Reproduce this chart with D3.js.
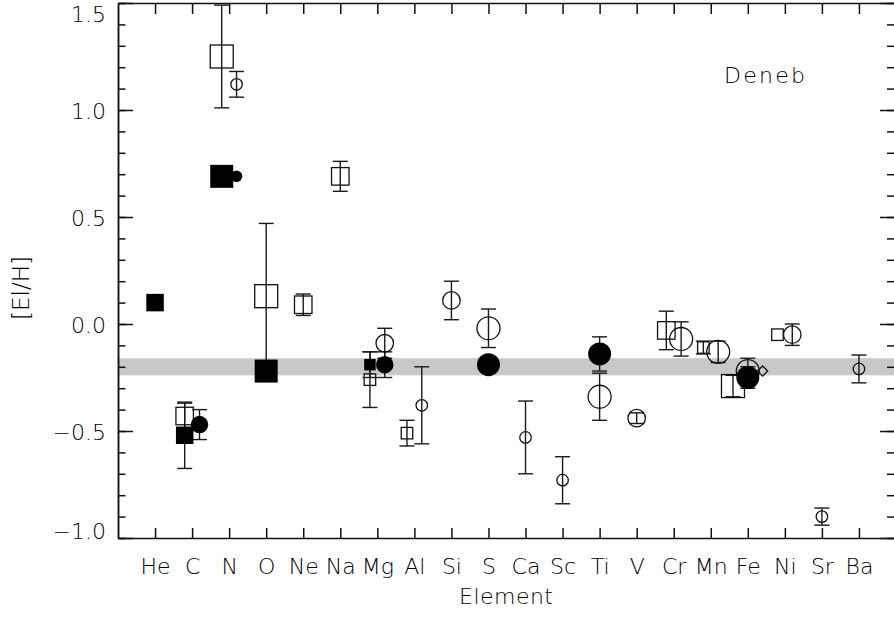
<!DOCTYPE html>
<html><head><meta charset="utf-8">
<script src="https://cdn.jsdelivr.net/npm/d3@7"></script>
<style>body{margin:0;background:#fff}svg{display:block}</style>
</head><body>
<svg id="c" width="894" height="617"></svg>
<script>
// ---------- data ----------
const elements = ["He","C","N","O","Ne","Na","Mg","Al","Si","S","Ca","Sc","Ti","V","Cr","Mn","Fe","Ni","Sr","Ba"];
const yMajorTicks = [-1.0,-0.5,0.0,0.5,1.0,1.5];
const solarBand = [-0.24,-0.16];

// filled squares
const fsqEl  = ["He","C","N","O","Mg"];
const fsqVal = [0.10,-0.52,0.69,-0.22,-0.19];
const fsqErr = [0,0.155,0,0,0.06];
const fsqWt  = [2,2,3,3,1];

// open squares
const osqEl  = ["C","N","O","Ne","Na","Mg","Al","Cr","Mn","Fe","Ni"];
const osqVal = [-0.43,1.25,0.13,0.09,0.69,-0.26,-0.51,-0.03,-0.11,-0.29,-0.05];
const osqErr = [0.06,0.24,0.34,0.05,0.07,0.13,0.06,0.09,0.03,0.05,0];
const osqWt  = [2,3,3,2,2,1,1,2,1,3,1];

// filled circles
const fciEl  = ["C","N","Mg","S","Ti","Fe"];
const fciVal = [-0.47,0.69,-0.19,-0.19,-0.14,-0.25];
const fciErr = [0.07,0,0.06,0,0.08,0.05];
const fciWt  = [2,1,2,3,3,3];

// open circles
const ociEl  = ["N","Mg","Al","Si","S","Ca","Sc","Ti","V","Cr","Mn","Fe","Ni","Sr","Ba"];
const ociVal = [1.12,-0.09,-0.38,0.11,-0.02,-0.53,-0.73,-0.34,-0.44,-0.07,-0.13,-0.22,-0.05,-0.90,-0.21];
const ociErr = [0.06,0.07,0.18,0.09,0.09,0.17,0.11,0.11,0.025,0.08,0.05,0.06,0.05,0.04,0.065];
const ociWt  = [1,2,1,2,3,1,1,3,2,3,3,3,2,1,1];

// open diamonds
const odiEl  = ["Fe"];
const odiVal = [-0.22];
const odiErr = [0];
const odiWt  = [1];

// ---------- setup ----------
const svg = d3.select("#c");
const FONT = "'DejaVu Sans', sans-serif";
const L = 118, R = 896, T = 3, B = 538;
const x = d3.scaleLinear().domain([0, elements.length + 1]).range([L, R]);
const y = d3.scaleLinear().domain([-1.0, 1.5]).range([B, T]);
const size = d3.scaleOrdinal().domain([1,2,3]).range([11.5, 17.5, 23]);

const series = [
  {shape:"square", filled:true,  el:fsqEl, val:fsqVal, err:fsqErr, wt:fsqWt},
  {shape:"square", filled:false, el:osqEl, val:osqVal, err:osqErr, wt:osqWt},
  {shape:"circle", filled:true,  el:fciEl, val:fciVal, err:fciErr, wt:fciWt},
  {shape:"circle", filled:false, el:ociEl, val:ociVal, err:ociErr, wt:ociWt},
  {shape:"diamond",filled:false, el:odiEl, val:odiVal, err:odiErr, wt:odiWt}
];

// group offsets (squares left, circles middle/right, diamonds right)
const groupOrder = ["square","circle","diamond"];
const offsets = {1:[0], 2:[-0.2,0.2], 3:[-0.4,0,0.4]};
const present = {};
series.forEach(s => s.el.forEach(e => { (present[e] = present[e] || new Set()).add(s.shape); }));
function offsetFor(e, shape){
  const g = groupOrder.filter(k => present[e].has(k));
  return offsets[g.length][g.indexOf(shape)];
}

const points = [];
series.forEach(s => s.el.forEach((e,i) => {
  points.push({shape:s.shape, filled:s.filled, el:e, v:s.val[i], err:s.err[i], wt:s.wt[i],
               xv: elements.indexOf(e) + 1 + offsetFor(e, s.shape)});
}));

// ---------- band ----------
svg.append("rect")
  .attr("x", L).attr("width", R - L)
  .attr("y", y(solarBand[1])).attr("height", y(solarBand[0]) - y(solarBand[1]))
  .attr("fill", "#c8c8c8");

// ---------- error bars ----------
const eb = svg.append("g").attr("stroke", "#1a1a1a").attr("stroke-width", 1.4).attr("fill","none");
points.filter(p => p.err > 0).forEach(p => {
  const cx = x(p.xv), y1 = y(p.v + p.err), y2 = y(p.v - p.err);
  eb.append("line").attr("x1", cx).attr("x2", cx).attr("y1", y1).attr("y2", y2);
  [y1, y2].forEach(yy => eb.append("line").attr("x1", cx - 7.5).attr("x2", cx + 7.5).attr("y1", yy).attr("y2", yy));
});

// ---------- markers ----------
function drawMarker(g, p){
  const cx = x(p.xv), cy = y(p.v), s = size(p.wt);
  let m;
  if (p.shape === "square") {
    m = g.append("rect").attr("x", cx - s/2).attr("y", cy - s/2).attr("width", s).attr("height", s);
  } else if (p.shape === "circle") {
    m = g.append("circle").attr("cx", cx).attr("cy", cy).attr("r", s/2);
  } else {
    const d = s * 0.62;
    m = g.append("rect").attr("x", -d/2).attr("y", -d/2).attr("width", d).attr("height", d)
      .attr("transform", `translate(${cx},${cy}) rotate(45)`);
  }
  if (p.filled) m.attr("fill", "#000").attr("stroke", "none");
  else m.attr("fill", "none").attr("stroke", "#111").attr("stroke-width", 1.3);
}
const mk = svg.append("g");
points.filter(p => !p.filled).forEach(p => drawMarker(mk, p));
points.filter(p => p.filled).forEach(p => drawMarker(mk, p));

// ---------- axes ----------
function styleAxis(g){
  g.selectAll("path,line").attr("stroke", "#111").attr("stroke-width", 1.5);
  g.selectAll("text").attr("font-family", FONT).attr("font-size", 22).attr("font-weight", 200).attr("fill", "#000");
}
const minorVals = d3.range(-10, 16).map(d => d / 10);
const catTicks = elements.map((e,i) => i + 1);

const gl = svg.append("g").attr("transform", `translate(${L},0)`)
  .call(d3.axisLeft(y).tickValues(yMajorTicks).tickSize(-15).tickSizeOuter(0).tickPadding(12).tickFormat(d3.format(".1f")));
gl.selectAll(".tick text").attr("dy", null).attr("dominant-baseline", null)
  .attr("y", d => Math.min(Math.max(y(d), T + 10), B - 8) - y(d) + 8);
styleAxis(gl);
const glm = svg.append("g").attr("transform", `translate(${L},0)`)
  .call(d3.axisLeft(y).tickValues(minorVals).tickSize(-7.5).tickSizeOuter(0).tickFormat(""));
styleAxis(glm);

const gr = svg.append("g").attr("transform", `translate(${R},0)`)
  .call(d3.axisRight(y).tickValues(yMajorTicks).tickSize(-16).tickSizeOuter(0).tickFormat(""));
styleAxis(gr);
const grm = svg.append("g").attr("transform", `translate(${R},0)`)
  .call(d3.axisRight(y).tickValues(minorVals).tickSize(-9).tickSizeOuter(0).tickFormat(""));
styleAxis(grm);

const gb = svg.append("g").attr("transform", `translate(0,${B})`)
  .call(d3.axisBottom(x).tickValues(catTicks).tickSize(-10).tickSizeOuter(0).tickPadding(20).tickFormat(i => elements[i-1]));
styleAxis(gb);
const gt = svg.append("g").attr("transform", `translate(0,${T})`)
  .call(d3.axisTop(x).tickValues(catTicks).tickSize(-11).tickSizeOuter(0).tickFormat(""));
styleAxis(gt);

// ---------- labels ----------
svg.append("text").attr("x", 506).attr("y", 604).attr("text-anchor", "middle")
  .attr("font-family", FONT).attr("font-size", 22).attr("font-weight", 200).attr("fill", "#000")
  .attr("textLength", 94).attr("lengthAdjust", "spacing").text("Element");
svg.append("text").attr("transform", "translate(29,288) rotate(-90)").attr("text-anchor", "middle")
  .attr("font-family", FONT).attr("font-size", 23).attr("font-weight", 200).attr("fill", "#000")
  .text("[El/H]");
svg.append("text").attr("x", 724).attr("y", 83)
  .attr("font-family", FONT).attr("font-size", 22).attr("font-weight", 200).attr("fill", "#000")
  .attr("textLength", 81).attr("lengthAdjust", "spacing").text("Deneb");
</script>
</body></html>
